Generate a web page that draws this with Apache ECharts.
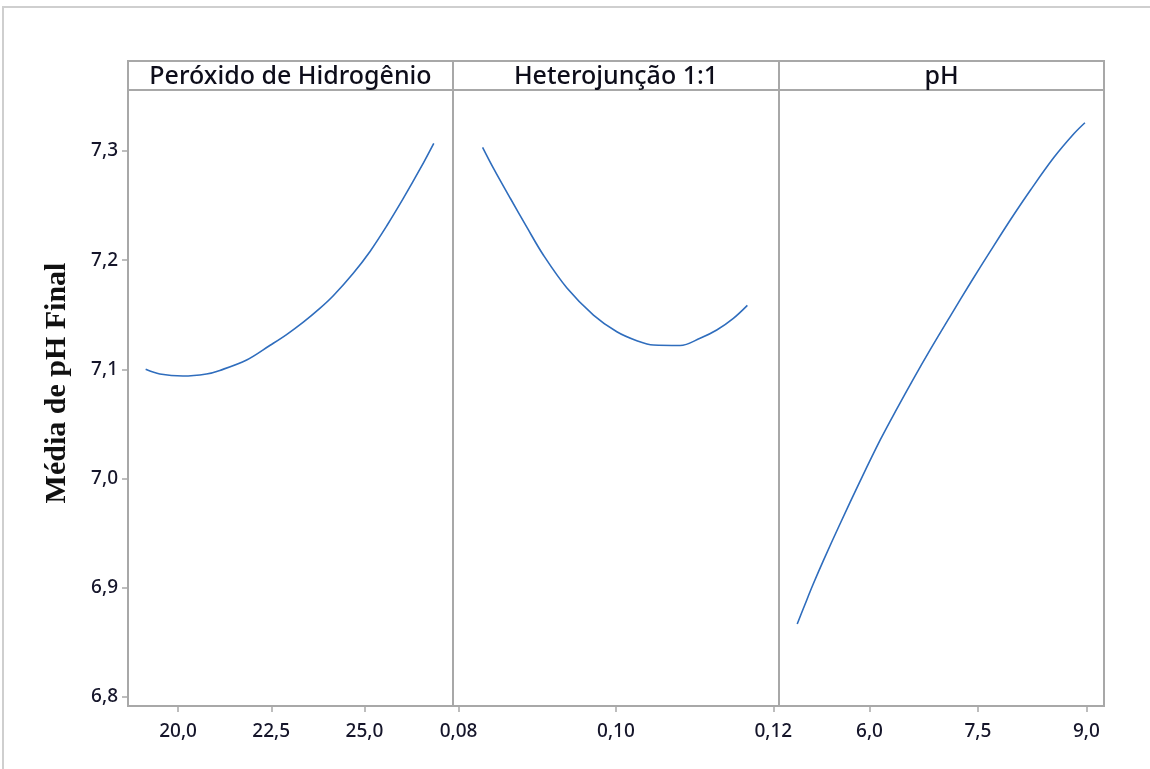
<!DOCTYPE html>
<html><head><meta charset="utf-8">
<script src="https://cdn.jsdelivr.net/npm/echarts@6/dist/echarts.min.js"></script>
<style>html,body{margin:0;padding:0;background:#fff}#c{width:1150px;height:769px}</style>
</head><body><div id="c"></div>
<script>
// ---- data ----
const panelTitles = ['Peróxido de Hidrogênio', 'Heterojunção 1:1', 'pH'];
const yTitle = 'Média de pH Final';
const yTicks = [6.8, 6.9, 7.0, 7.1, 7.2, 7.3];
const x1Ticks = [20.0, 22.5, 25.0];
const x2Ticks = [0.08, 0.10, 0.12];
const x3Ticks = [6.0, 7.5, 9.0];

const peroxidoX = [19.13, 19.51, 20.13, 20.76, 21.12, 21.84, 22.47, 22.91, 23.36, 23.81, 24.17, 24.70, 25.15, 25.60, 26.05, 26.50, 26.86];
const peroxidoY = [7.1000, 7.0957, 7.0938, 7.0957, 7.0990, 7.1085, 7.1220, 7.1318, 7.1432, 7.1560, 7.1676, 7.1880, 7.2080, 7.2315, 7.2570, 7.2840, 7.3071];

const heteroX = [0.08305, 0.08444, 0.08657, 0.08869, 0.09079, 0.09377, 0.09714, 0.10011, 0.10265, 0.10476, 0.10815, 0.11069, 0.11281, 0.11492, 0.11670];
const heteroY = [7.3034, 7.2841, 7.2567, 7.2300, 7.2045, 7.1745, 7.1497, 7.1344, 7.1262, 7.1222, 7.1218, 7.1284, 7.1360, 7.1467, 7.1586];

const phX = [5.00, 5.11, 5.22, 5.36, 5.59, 5.87, 6.15, 6.38, 6.61, 6.84, 7.12, 7.40, 7.67, 7.95, 8.23, 8.55, 8.83, 8.98];
const phY = [6.8666, 6.8850, 6.9030, 6.9245, 6.9580, 6.9975, 7.0355, 7.0640, 7.0915, 7.1180, 7.1490, 7.1795, 7.2080, 7.2370, 7.2645, 7.2940, 7.3160, 7.3259];

const xRanges = [[18.656, 27.376], [0.07929, 0.12072], [4.748, 9.244]];
const yRange = [6.7915, 7.3559];

// ---- layout / style ----
const frameColor = '#a8a8a8';
const lineColor = '#2f6dbd';
const textColor = '#15152a';
const panels = [{left: 128, width: 325}, {left: 453, width: 326}, {left: 779, width: 325}];
const plotTop = 90, plotHeight = 616, headTop = 61;

const zip = (a, b) => a.map((v, i) => [v, b[i]]);
const comma = (v, d) => v.toFixed(d).replace('.', ',');

const xTickSets = [x1Ticks, x2Ticks, x3Ticks];
const xDigits = [1, 2, 1];
const seriesData = [zip(peroxidoX, peroxidoY), zip(heteroX, heteroY), zip(phX, phY)];

const grid = panels.map(p => ({
  left: p.left, width: p.width, top: plotTop, height: plotHeight,
  show: true, borderColor: frameColor, borderWidth: 2, backgroundColor: 'transparent'
}));

const xAxis = panels.map((p, i) => ({
  type: 'value', gridIndex: i, min: xRanges[i][0], max: xRanges[i][1],
  axisLine: {show: false},
  splitLine: {show: false},
  axisTick: {show: true, length: 6, customValues: xTickSets[i], lineStyle: {color: frameColor, width: 1.5}},
  axisLabel: {customValues: xTickSets[i], margin: 16, color: textColor, fontSize: 19, fontWeight: 500,
    fontFamily: 'Noto Sans', formatter: v => comma(v, xDigits[i])}
}));

const yAxis = panels.map((p, i) => ({
  type: 'value', gridIndex: i, min: yRange[0], max: yRange[1],
  axisLine: {show: false},
  splitLine: {show: false},
  axisTick: {show: i === 0, length: 6, customValues: yTicks, lineStyle: {color: frameColor, width: 1.5}},
  axisLabel: {show: i === 0, customValues: yTicks, margin: 10, color: textColor, fontSize: 19, fontWeight: 500,
    fontFamily: 'Noto Sans', formatter: v => comma(v, 1)}
}));

const series = seriesData.map((d, i) => ({
  type: 'line', xAxisIndex: i, yAxisIndex: i, data: d, smooth: 0.35,
  showSymbol: false, lineStyle: {color: lineColor, width: 1.6}, silent: true
}));

const graphic = [
  {type: 'rect', shape: {x: 3, y: 7, width: 1300, height: 900}, style: {fill: 'none', stroke: '#cfcfcf', lineWidth: 2}, silent: true}
];
panels.forEach((p, i) => {
  graphic.push({type: 'rect', shape: {x: p.left, y: headTop, width: p.width, height: plotTop - headTop},
    style: {fill: '#fff', stroke: frameColor, lineWidth: 2}, silent: true});
  graphic.push({type: 'text', x: p.left + p.width / 2, y: (headTop + plotTop) / 2 + 1,
    style: {text: panelTitles[i], fill: '#0d0d1a', font: '500 25px "Noto Sans"', align: 'center', verticalAlign: 'middle'}, silent: true});
});
graphic.push({type: 'text', x: 57, y: 383, rotation: Math.PI / 2,
  style: {text: yTitle, fill: '#111', font: 'bold 30px "Liberation Serif"', align: 'center', verticalAlign: 'middle'}, silent: true});

const chart = echarts.init(document.getElementById('c'), null, {renderer: 'canvas'});
chart.setOption({animation: false, backgroundColor: '#fff', grid, xAxis, yAxis, series, graphic});
</script>
</body></html>
